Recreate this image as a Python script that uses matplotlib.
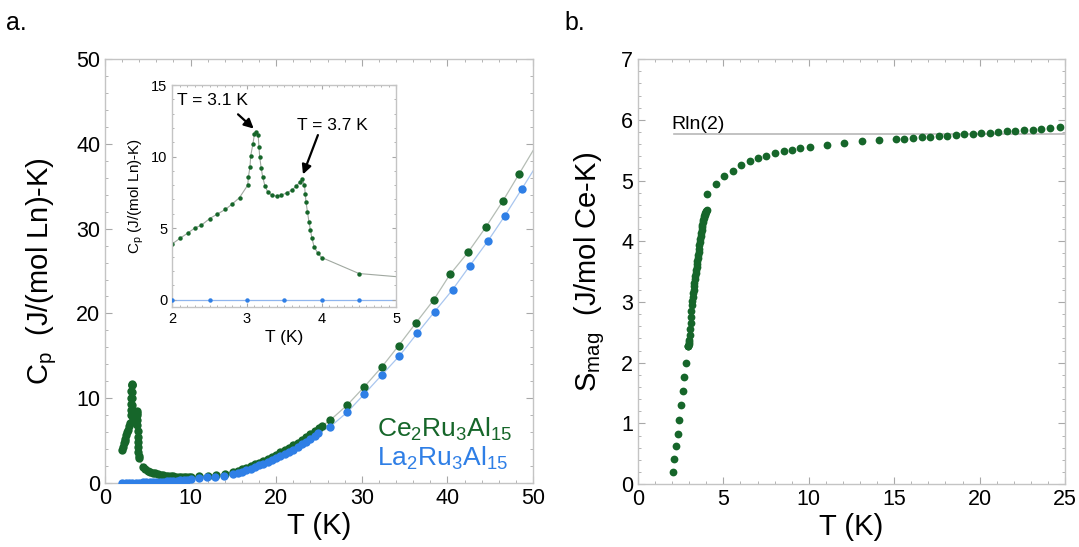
import matplotlib
matplotlib.use("Agg")
import matplotlib.pyplot as plt
from matplotlib.ticker import MultipleLocator

plt.rcParams['font.family'] = ['Liberation Sans', 'DejaVu Sans']
plt.rcParams['mathtext.default'] = 'regular'

GREEN = '#16662a'
BLUE = '#2f7fe6'
SPINE = '#c4c4c4'

# ==== データ: パネル a (Cp) ====
# Ce2Ru3Al15 低温部 (インセットと共通)
ce_low_T = [2.0, 2.10, 2.21, 2.30, 2.39, 2.50, 2.60, 2.71, 2.80, 2.90,
            3.01, 3.02, 3.04, 3.05, 3.08, 3.10, 3.12, 3.15, 3.16, 3.17,
            3.19, 3.21, 3.24, 3.28, 3.33, 3.40, 3.46, 3.53, 3.60, 3.66,
            3.71, 3.74, 3.77, 3.78, 3.79, 3.81, 3.83, 3.85, 3.87, 3.90,
            3.95, 4.00]
ce_low_Cp = [3.9, 4.27, 4.66, 5.0, 5.2, 5.66, 5.97, 6.3, 6.67, 7.13,
             8.0, 8.6, 9.28, 10.05, 10.9, 11.56, 11.7, 11.5, 10.7, 10.0,
             9.2, 8.58, 7.95, 7.5, 7.3, 7.23, 7.3, 7.46, 7.65, 7.93,
             8.23, 8.46, 8.0, 7.4, 6.83, 6.13, 5.43, 4.85, 4.27, 3.68,
             3.22, 2.94]
# 4.4 K 以上
ce_mid_T = [4.4, 4.7, 5.0, 5.3, 5.6, 5.9, 6.2, 6.5, 6.8, 7.1, 7.4, 7.7,
            8.0, 8.3, 8.6, 8.9, 9.2, 9.5, 9.8, 10.1, 11.0, 12.0, 13.0, 14.0]
ce_mid_Cp = [1.85, 1.6, 1.45, 1.33, 1.22, 1.13, 1.05, 0.98, 0.92, 0.87, 0.83, 0.8,
             0.78, 0.76, 0.75, 0.74, 0.73, 0.73, 0.73, 0.74, 0.78, 0.85, 0.95, 1.1]
ce_hi_T = [15.0, 15.5, 16.0, 16.5, 17.0, 17.5, 18.0, 18.5, 19.0, 19.5, 20.0,
           20.5, 21.0, 21.5, 22.0, 22.5, 23.0, 23.5, 24.0, 24.5, 25.0, 25.4,
           26.3, 28.3, 30.3, 32.35, 34.3, 36.3, 38.4, 40.3, 42.4, 44.5, 46.5, 48.4]
ce_hi_Cp = [1.3, 1.45, 1.6, 1.8, 2.0, 2.2, 2.4, 2.62, 2.85, 3.1, 3.35,
            3.62, 3.9, 4.17, 4.45, 4.75, 5.05, 5.4, 5.75, 6.1, 6.5, 6.75,
            7.4, 9.2, 11.36, 13.7, 16.2, 18.85, 21.6, 24.6, 27.2, 30.2, 33.3, 36.5]
ce_line_end = (50.0, 39.2)

# La2Ru3Al15
la_T = [2.0, 2.4, 2.8, 3.2, 3.6, 4.0, 4.4, 4.8, 5.2, 5.6, 6.0, 6.4, 6.8,
        7.2, 7.6, 8.0, 8.4, 8.8, 9.2, 9.6, 10.0, 11.0, 11.96, 12.9, 13.9,
        15.0, 15.5, 16.0, 16.5, 17.0, 17.5, 18.0, 18.5, 19.0, 19.5, 20.0,
        20.5, 21.0, 21.5, 22.0, 22.5, 23.0, 23.5, 24.0, 24.5, 24.9,
        26.3, 28.3, 30.3, 32.35, 34.4, 36.5, 38.5, 40.6, 42.6, 44.7, 46.7, 48.7]
la_Cp = [0.02, 0.02, 0.03, 0.03, 0.04, 0.05, 0.06, 0.07, 0.08, 0.1, 0.12, 0.14, 0.16,
         0.19, 0.22, 0.25, 0.28, 0.31, 0.35, 0.39, 0.43, 0.55, 0.67, 0.75, 0.86,
         1.06, 1.2, 1.35, 1.52, 1.7, 1.9, 2.1, 2.3, 2.5, 2.72, 2.95,
         3.2, 3.45, 3.7, 3.95, 4.25, 4.55, 4.87, 5.2, 5.53, 5.86,
         6.63, 8.35, 10.5, 12.76, 15.0, 17.7, 20.2, 22.8, 25.6, 28.5, 31.5, 34.7]
la_line_end = (50.0, 36.8)

# インセット
ce_inset_T = ce_low_T + [4.5]
ce_inset_Cp = ce_low_Cp + [1.82]
ce_inset_line_end = (5.0, 1.6)
la_inset_T = [2.0, 2.5, 3.0, 3.5, 4.0, 4.5]
la_inset_Cp = [0.0, 0.0, 0.0, 0.0, 0.0, 0.0]

# ==== データ: パネル b (S_mag) ====
s_T = [2.03, 2.12, 2.24, 2.34, 2.42, 2.53, 2.63, 2.71, 2.83, 2.90,
       2.92, 2.94, 2.96, 2.98,
       3.0, 3.025, 3.05, 3.075, 3.1, 3.125, 3.15, 3.175, 3.2, 3.225,
       3.25, 3.275, 3.3, 3.325, 3.35, 3.375, 3.4, 3.425, 3.45, 3.475,
       3.5, 3.525, 3.55, 3.575, 3.6, 3.625, 3.65, 3.675, 3.7, 3.725,
       3.75, 3.775, 3.8, 3.825, 3.85, 3.875, 3.9, 3.925, 3.95, 3.975,
       4.0, 4.03,
       4.05, 4.58, 5.05, 5.56, 6.04, 6.53, 7.02, 7.52, 8.03, 8.52, 9.0, 9.49,
       10.08, 11.05, 12.09, 13.1, 14.1,
       15.1, 15.6, 16.1, 16.6, 17.1, 17.6, 18.1, 18.6, 19.1, 19.6,
       20.1, 20.6, 21.1, 21.6, 22.1, 22.6, 23.1, 23.6, 24.1, 24.7]
s_mag = [0.2, 0.41, 0.63, 0.83, 1.06, 1.30, 1.53, 1.76, 2.0, 2.27,
         2.27, 2.28, 2.3, 2.34,
         2.38, 2.46, 2.55, 2.65, 2.75, 2.85, 2.95, 3.02, 3.08, 3.14,
         3.2, 3.26, 3.32, 3.38, 3.43, 3.48, 3.53, 3.58, 3.63, 3.68,
         3.73, 3.78, 3.83, 3.88, 3.93, 3.98, 4.03, 4.08, 4.13, 4.18,
         4.23, 4.27, 4.31, 4.35, 4.38, 4.41, 4.43, 4.45, 4.47, 4.48,
         4.49, 4.51,
         4.77, 4.94, 5.07, 5.16, 5.26, 5.32, 5.37, 5.41, 5.45, 5.48, 5.51, 5.53,
         5.56, 5.59, 5.62, 5.65, 5.67,
         5.68, 5.69, 5.70, 5.71, 5.72, 5.73, 5.74, 5.75, 5.76, 5.77,
         5.78, 5.79, 5.80, 5.81, 5.82, 5.83, 5.84, 5.85, 5.86, 5.88]
rln2 = 5.763
rln2_T = [2.1, 25.0]


def style_axes(ax, xmaj, xmin, ymaj, ymin, size, length=5):
    for sp in ax.spines.values():
        sp.set_color(SPINE)
        sp.set_linewidth(1.0)
    ax.xaxis.set_major_locator(MultipleLocator(xmaj))
    ax.xaxis.set_minor_locator(MultipleLocator(xmin))
    ax.yaxis.set_major_locator(MultipleLocator(ymaj))
    ax.yaxis.set_minor_locator(MultipleLocator(ymin))
    ax.tick_params(which='both', direction='in', top=True, right=True,
                   color='#a8a8a8', labelsize=size)
    ax.tick_params(which='major', length=length)
    ax.tick_params(which='minor', length=length * 0.5)


fig = plt.figure(figsize=(10.79, 5.47), dpi=100)

# ---- パネル a ----
ax1 = fig.add_axes([0.0973, 0.117, 0.3967, 0.775])
ax1.plot(ce_low_T + ce_mid_T + ce_hi_T + [ce_line_end[0]],
         ce_low_Cp + ce_mid_Cp + ce_hi_Cp + [ce_line_end[1]],
         '-', color='#b5bdb5', lw=0.9, zorder=1)
ax1.plot(la_T + [la_line_end[0]], la_Cp + [la_line_end[1]],
         '-', color='#a9c6ef', lw=0.9, zorder=1)
ax1.plot(ce_low_T + ce_mid_T + ce_hi_T, ce_low_Cp + ce_mid_Cp + ce_hi_Cp,
         'o', color=GREEN, ms=6, mec='none', zorder=2)
ax1.plot(la_T, la_Cp, 'o', color=BLUE, ms=6, mec='none', zorder=3)
ax1.set_xlim(0, 50)
ax1.set_ylim(0, 50)
style_axes(ax1, 10, 2, 10, 2, 15.5)
ax1.set_xlabel('T (K)', fontsize=21, labelpad=2)
ax1.set_ylabel(r'C$_{p}$  (J/(mol Ln)-K)', fontsize=21, labelpad=12)
ax1.text(31.8, 5.4, r'Ce$_{2}$Ru$_{3}$Al$_{15}$', color=GREEN, fontsize=19)
ax1.text(31.8, 2.0, r'La$_{2}$Ru$_{3}$Al$_{15}$', color=BLUE, fontsize=19)

# ---- インセット ----
axi = fig.add_axes([0.1597, 0.4393, 0.2076, 0.4053])
axi.plot(ce_inset_T + [ce_inset_line_end[0]], ce_inset_Cp + [ce_inset_line_end[1]],
         '-', color='#a0a8a0', lw=0.8, zorder=1)
axi.plot([2.0, 5.0], [0.0, 0.0], '-', color='#8fb5ee', lw=0.9, zorder=1)
axi.plot(ce_inset_T, ce_inset_Cp, 'o', color=GREEN, ms=3.2, mec='none', zorder=2)
axi.plot(la_inset_T, la_inset_Cp, 'o', color=BLUE, ms=3.2, mec='none', zorder=3)
axi.set_xlim(2, 5)
axi.set_ylim(-0.5, 15)
style_axes(axi, 1, 0.1, 5, 1, 10.5, length=3)
axi.set_xlabel('T (K)', fontsize=12.5, labelpad=3)
axi.set_ylabel(r'C$_{p}$ (J/(mol Ln)-K)', fontsize=11, labelpad=4)
arrow = dict(arrowstyle='-|>', color='black', lw=1.6, mutation_scale=14,
             shrinkA=0, shrinkB=0)
axi.annotate('T = 3.1 K', xy=(3.09, 11.95), xytext=(2.06, 13.9),
             fontsize=12.5, va='center', ha='left')
axi.annotate('', xy=(3.09, 11.95), xytext=(2.88, 12.95), arrowprops=arrow)
axi.annotate('T = 3.7 K', xy=(3.75, 8.75), xytext=(3.67, 12.2),
             fontsize=12.5, va='center', ha='left')
axi.annotate('', xy=(3.75, 8.75), xytext=(3.95, 11.5), arrowprops=arrow)

# ---- パネル b ----
ax2 = fig.add_axes([0.5913, 0.115, 0.3957, 0.777])
ax2.plot(rln2_T, [rln2, rln2], '-', color='#b8b8b8', lw=1.2, zorder=1)
ax2.plot(s_T, s_mag, 'o', color=GREEN, ms=5.6, mec='none', zorder=2)
ax2.text(1.95, 5.85, 'Rln(2)', fontsize=14)
ax2.set_xlim(0, 25)
ax2.set_ylim(0, 7)
style_axes(ax2, 5, 1, 1, 0.2, 15.5)
ax2.set_xlabel('T (K)', fontsize=21, labelpad=2)
ax2.set_ylabel(r'S$_{mag}$  (J/mol Ce-K)', fontsize=21, labelpad=10)

fig.text(0.006, 0.945, 'a.', fontsize=18)
fig.text(0.523, 0.945, 'b.', fontsize=18)

fig.savefig('out.png', dpi=100, facecolor='white')
